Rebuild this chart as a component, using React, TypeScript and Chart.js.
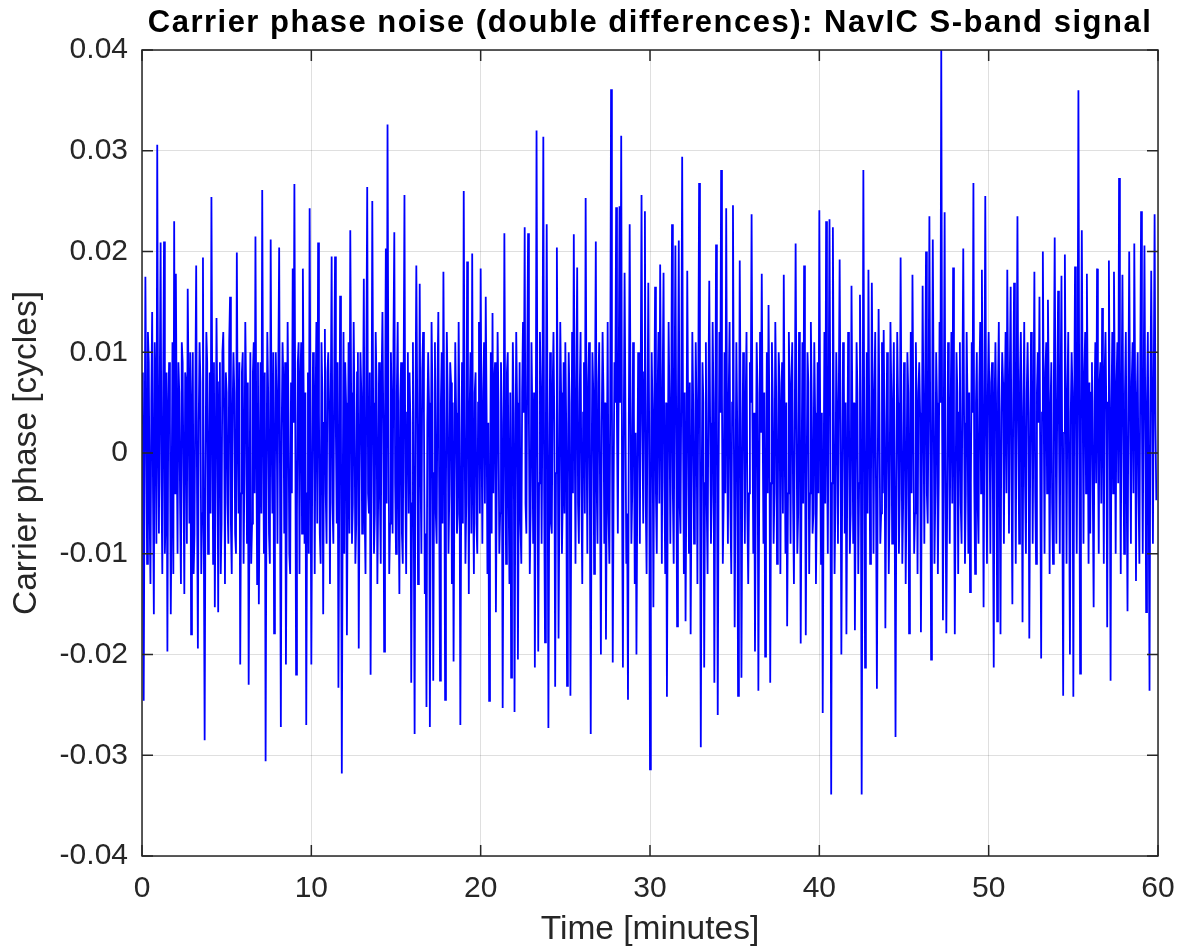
import React, { useEffect, useRef } from "react";
import { Chart, registerables } from "chart.js";

Chart.register(...registerables);

const TITLE = "Carrier phase noise (double differences): NavIC S-band signal";
const X_LABEL = "Time [minutes]";
const Y_LABEL = "Carrier phase [cycles]";
const SAMPLE_STEP_MIN = 0.05;
const X_TICKS = [0, 10, 20, 30, 40, 50, 60];
const Y_TICKS = [-0.04, -0.03, -0.02, -0.01, 0, 0.01, 0.02, 0.03, 0.04];
const Y_TICK_LABELS = ["-0.04", "-0.03", "-0.02", "-0.01", "0", "0.01", "0.02", "0.03", "0.04"];

// Carrier phase double-difference noise [cycles]; one row per minute (0.05 min samples)
const phaseCycles = [
  0.003, 0.008, -0.0246, -0.002, 0.0175, 0.004, -0.011, 0.012, 0.009, -0.006, -0.013, 0.005, 0.014, -0.004, -0.016, 0.011, 0.006, -0.009, 0.0306, 0.002,
  -0.008, 0.007, 0.0209, -0.003, -0.012, 0.006, 0.021, -0.010, -0.006, 0.008, -0.0197, 0.004, 0.009, 0.003, -0.016, -0.005, 0.011, -0.012, 0.023, -0.004,
  0.0178, 0.002, -0.010, 0.009, 0.006, -0.005, -0.013, 0.011, 0.009, -0.003, -0.014, 0.008, 0.007, -0.009, 0.0163, 0.006, -0.007, 0.010, -0.018, 0.004,
  0.010, -0.012, -0.008, 0.006, 0.0186, -0.004, -0.0194, 0.003, 0.011, 0.007, -0.012, -0.006, 0.0194, -0.008, -0.0285, -0.003, 0.012, 0.009, -0.010, -0.004,
  0.008, -0.006, 0.0254, 0.005, -0.011, 0.009, -0.0153, -0.002, 0.0134, 0.004, -0.0158, 0.007, 0.009, -0.012, -0.007, 0.010, 0.012, 0.003, -0.013, 0.008,
  0.006, -0.005, -0.009, 0.011, 0.0155, -0.007, -0.012, 0.004, 0.010, 0.006, -0.008, -0.010, 0.0199, 0.003, -0.006, 0.009, -0.021, -0.004, 0.008, 0.010,
  -0.011, -0.002, 0.013, 0.006, -0.009, 0.007, -0.023, -0.005, 0.010, -0.011, -0.007, 0.008, 0.011, -0.004, 0.0215, 0.002, -0.013, 0.009, -0.015, -0.003,
  0.009, -0.006, 0.0261, 0.004, -0.010, 0.008, -0.0306, -0.004, 0.012, 0.006, -0.008, -0.011, 0.0212, 0.003, -0.006, 0.010, -0.0179, -0.002, 0.010, 0.005,
  -0.009, 0.008, 0.0204, -0.003, -0.0272, 0.002, 0.011, 0.007, -0.008, 0.009, -0.021, -0.006, 0.013, 0.004, -0.010, -0.012, 0.007, -0.004, 0.0183, 0.003,
  0.0267, 0.004, -0.022, -0.006, 0.009, 0.011, -0.012, 0.007, 0.011, -0.008, 0.0183, 0.005, -0.009, 0.006, -0.027, -0.004, 0.008, -0.010, 0.0243, 0.002,
  -0.021, -0.003, 0.010, 0.008, -0.012, 0.005, 0.013, -0.007, 0.0209, 0.004, -0.008, -0.011, 0.011, 0.006, -0.016, 0.003, 0.0123, -0.004, -0.009, 0.008,
  0.010, 0.004, -0.013, 0.006, 0.0195, -0.005, -0.009, 0.007, 0.0195, 0.002, -0.007, 0.009, -0.0233, -0.004, 0.0156, 0.003, -0.0318, -0.006, 0.012, -0.010,
  0.009, 0.005, -0.0181, -0.003, 0.011, -0.008, 0.0221, 0.006, -0.009, -0.005, 0.013, 0.004, -0.011, -0.007, 0.008, 0.010, -0.0194, -0.002, 0.010, 0.006,
  -0.008, 0.003, 0.0173, -0.006, -0.012, 0.009, 0.0264, -0.004, -0.006, 0.008, -0.022, -0.003, 0.025, 0.005, -0.010, -0.006, 0.012, 0.007, -0.013, -0.004,
  0.009, -0.004, -0.011, 0.007, 0.014, 0.003, -0.0197, 0.002, 0.0203, -0.005, 0.0326, 0.006, -0.012, -0.007, 0.010, 0.004, -0.008, 0.011, 0.0219, -0.003,
  -0.010, 0.006, 0.013, -0.004, -0.014, 0.005, 0.009, -0.008, -0.011, 0.007, 0.0256, -0.003, -0.012, 0.004, 0.010, -0.006, 0.008, 0.003, -0.0228, -0.005,
  0.011, -0.007, -0.0279, 0.004, 0.0186, 0.006, -0.013, -0.004, 0.0168, -0.002, -0.010, 0.008, 0.012, 0.004, -0.014, -0.008, -0.0252, 0.003, 0.010, 0.005,
  -0.0272, -0.005, 0.013, 0.006, -0.0226, -0.002, 0.011, -0.006, -0.009, 0.007, 0.014, -0.004, -0.0226, 0.005, 0.010, -0.007, 0.018, 0.003, -0.0245, -0.004,
  0.012, 0.006, -0.010, -0.004, 0.009, 0.007, -0.013, 0.005, -0.0207, -0.003, 0.011, 0.004, -0.008, -0.006, 0.013, 0.002, -0.027, -0.005, 0.009, -0.007,
  0.026, 0.003, -0.011, -0.005, 0.019, 0.006, -0.014, 0.004, 0.010, -0.008, 0.0198, -0.003, -0.012, 0.006, 0.008, -0.007, -0.010, 0.005, 0.013, -0.006,
  0.0183, 0.002, -0.009, 0.006, 0.011, -0.005, 0.0155, 0.004, -0.012, 0.003, -0.0246, -0.006, 0.010, -0.008, 0.0139, -0.004, 0.007, 0.009, -0.0158, -0.003,
  0.012, 0.005, -0.010, -0.006, 0.009, 0.003, -0.0253, -0.004, 0.0218, 0.002, -0.011, 0.008, 0.010, -0.004, -0.013, 0.006, -0.0223, -0.005, 0.011, 0.004,
  -0.0257, -0.003, 0.012, 0.005, -0.0205, -0.004, 0.009, -0.007, -0.011, 0.006, 0.013, 0.004, 0.0224, -0.005, -0.008, 0.009, 0.0218, 0.003, -0.012, -0.006,
  0.011, 0.004, -0.009, 0.006, -0.0213, -0.002, 0.032, 0.004, -0.0197, -0.003, 0.012, 0.006, -0.009, 0.005, 0.0314, -0.004, -0.0188, 0.002, 0.0227, 0.003,
  -0.0273, -0.004, 0.010, -0.007, -0.008, 0.006, 0.012, 0.003, -0.0232, -0.002, 0.0204, 0.004, -0.0184, -0.005, 0.013, 0.006, -0.010, -0.004, 0.009, -0.006,
  0.011, 0.003, -0.0231, -0.003, 0.010, 0.005, -0.0241, -0.006, 0.012, -0.004, 0.0217, 0.003, -0.011, 0.007, 0.0184, -0.005, -0.009, 0.006, 0.012, -0.004,
  -0.013, 0.004, 0.009, -0.006, 0.0253, 0.003, -0.010, 0.007, 0.011, -0.005, -0.0279, -0.002, 0.010, 0.006, -0.012, 0.005, 0.021, -0.003, -0.009, 0.007,
  0.011, -0.004, -0.020, 0.003, 0.012, 0.006, -0.009, 0.005, -0.0185, -0.003, 0.013, -0.006, -0.011, 0.004, 0.0361, 0.006, -0.0208, -0.004, 0.009, 0.005,
  0.0244, 0.003, -0.008, 0.007, 0.0245, 0.005, 0.0315, -0.004, -0.0213, 0.002, 0.0179, 0.004, -0.011, -0.006, -0.0245, 0.003, 0.0227, 0.005, -0.009, -0.004,
  0.011, 0.004, -0.013, 0.002, -0.020, -0.004, 0.010, 0.006, -0.009, 0.007, 0.0256, 0.003, -0.007, 0.008, 0.024, -0.005, -0.012, 0.004, 0.0169, 0.003,
  -0.0314, -0.005, 0.010, 0.004, -0.0153, 0.003, 0.0165, -0.004, -0.010, 0.006, 0.012, -0.005, 0.0187, 0.004, -0.011, 0.007, 0.0179, -0.003, -0.012, 0.005,
  -0.0242, -0.003, 0.013, 0.005, -0.009, 0.004, 0.0227, -0.004, -0.011, 0.006, 0.0206, 0.002, -0.0172, 0.004, 0.0211, -0.005, -0.008, 0.007, 0.0294, 0.003,
  -0.012, 0.006, -0.0167, -0.003, 0.0181, 0.004, -0.010, 0.007, -0.018, -0.004, 0.012, 0.005, -0.009, -0.006, 0.011, 0.004, -0.013, 0.006, 0.0268, 0.002,
  -0.0292, -0.004, 0.009, 0.005, -0.0213, -0.003, 0.011, -0.005, -0.012, 0.006, 0.0171, 0.003, -0.009, -0.004, 0.013, 0.005, -0.0228, -0.002, 0.0207, 0.004,
  -0.026, -0.003, 0.012, 0.004, 0.0281, 0.006, -0.011, -0.005, 0.010, -0.004, 0.0243, 0.003, -0.009, 0.006, 0.013, -0.006, -0.012, 0.005, 0.0246, 0.003,
  -0.0173, -0.004, 0.011, 0.003, -0.0241, -0.005, 0.0191, 0.004, -0.0223, -0.003, 0.010, 0.006, -0.009, 0.005, 0.012, -0.006, -0.013, -0.004, 0.009, 0.005,
  0.0237, 0.003, -0.010, 0.004, -0.0197, -0.003, 0.011, 0.006, -0.0236, -0.004, 0.012, 0.002, 0.0178, 0.004, -0.009, 0.006, -0.0202, -0.005, 0.010, -0.004,
  0.0147, 0.004, -0.0228, -0.003, 0.011, 0.005, -0.009, -0.004, 0.013, 0.006, -0.011, -0.005, 0.010, 0.007, -0.012, 0.004, 0.009, -0.006, 0.0177, 0.002,
  -0.010, 0.005, -0.0172, -0.004, 0.012, 0.006, -0.009, 0.007, 0.011, -0.005, -0.013, 0.003, 0.0208, 0.004, -0.010, -0.006, 0.012, 0.005, -0.0189, -0.003,
  0.011, -0.005, 0.0186, 0.004, -0.0181, -0.003, 0.010, 0.007, -0.012, -0.004, 0.013, 0.005, -0.008, -0.006, 0.011, 0.004, -0.013, -0.005, 0.009, -0.004,
  0.0241, 0.003, -0.011, 0.004, -0.0258, -0.004, 0.012, -0.005, 0.023, 0.002, -0.010, 0.006, 0.0232, 0.004, -0.0339, -0.003, 0.0224, 0.005, -0.012, -0.005,
  0.010, 0.004, -0.009, 0.006, 0.0192, 0.003, -0.020, -0.004, 0.011, 0.007, -0.008, 0.005, -0.018, -0.003, 0.012, 0.004, -0.010, -0.006, 0.0166, 0.004,
  -0.009, 0.005, -0.0176, -0.004, 0.011, 0.006, -0.012, -0.003, 0.0157, 0.003, -0.0339, -0.005, 0.0281, 0.004, -0.0213, -0.004, 0.010, -0.006, 0.0182, 0.003,
  -0.011, -0.004, 0.0169, 0.005, -0.010, 0.006, 0.012, -0.005, -0.0234, -0.002, 0.0143, 0.004, -0.009, -0.006, 0.011, -0.004, 0.0122, 0.003, -0.0174, -0.003,
  0.010, 0.004, -0.012, -0.005, 0.013, 0.006, -0.009, 0.004, 0.011, -0.006, -0.0282, -0.003, 0.012, 0.005, -0.010, -0.004, 0.0194, 0.003, -0.011, -0.005,
  0.009, 0.005, -0.013, -0.004, 0.010, 0.006, -0.0179, -0.003, 0.012, -0.004, 0.0177, 0.005, -0.010, -0.006, 0.011, 0.004, -0.012, 0.006, 0.009, 0.004,
  -0.0178, -0.003, 0.0166, 0.004, -0.009, 0.006, 0.020, -0.004, -0.007, 0.005, 0.0235, 0.003, -0.0205, -0.002, 0.0212, 0.006, -0.011, -0.004, 0.010, 0.005,
  -0.012, -0.003, 0.013, 0.005, 0.0402, 0.004, -0.0166, 0.003, 0.0239, -0.004, -0.0179, -0.005, 0.011, 0.006, -0.009, 0.004, 0.012, -0.005, 0.0184, 0.003,
  -0.018, -0.004, 0.010, 0.006, -0.012, 0.004, 0.011, -0.005, -0.009, 0.007, 0.0203, 0.003, -0.011, -0.004, 0.012, 0.005, -0.010, 0.006, -0.0138, -0.003,
  0.011, 0.004, 0.0268, -0.003, -0.012, 0.005, 0.010, -0.005, -0.009, 0.007, 0.013, -0.004, 0.0182, 0.003, -0.0153, 0.004, 0.0255, 0.002, -0.011, 0.006,
  0.012, 0.004, -0.010, 0.007, 0.009, -0.004, -0.0213, 0.005, 0.011, 0.003, -0.0167, 0.006, 0.013, -0.003, -0.018, 0.004, 0.010, 0.007, -0.009, 0.005,
  0.012, -0.004, 0.0182, 0.006, -0.008, 0.008, 0.0165, -0.003, -0.015, 0.005, 0.0169, 0.004, -0.011, 0.006, 0.0235, 0.003, -0.009, 0.007, 0.012, 0.002,
  -0.0168, 0.004, 0.013, -0.003, -0.010, 0.006, 0.011, 0.004, -0.0184, -0.002, 0.012, 0.007, -0.009, 0.005, 0.018, -0.004, -0.011, 0.006, 0.010, 0.003,
  0.0155, -0.003, -0.0204, 0.004, 0.020, 0.005, -0.010, 0.008, 0.011, -0.004, 0.0152, 0.006, -0.012, 0.004, 0.009, -0.005, -0.011, 0.007, 0.0214, 0.003,
  -0.009, 0.005, 0.0161, 0.003, -0.010, 0.007, 0.0176, -0.004, -0.0241, 0.002, 0.0197, 0.005, -0.011, 0.006, 0.012, -0.003, -0.020, 0.004, 0.010, 0.006,
  -0.0242, 0.003, 0.0185, 0.005, -0.010, 0.006, 0.036, 0.004, -0.0219, 0.003, 0.0221, 0.006, -0.009, 0.008, 0.012, -0.004, 0.0178, 0.005, -0.011, 0.007,
  -0.008, 0.006, 0.009, -0.004, -0.0153, 0.005, 0.011, -0.003, 0.0183, 0.004, -0.010, 0.007, 0.009, -0.005, 0.0144, 0.003, -0.011, 0.008, 0.012, 0.004,
  -0.0173, 0.005, 0.0191, 0.003, -0.0226, 0.004, 0.012, -0.004, 0.018, 0.006, -0.010, 0.007, 0.011, -0.003, 0.0273, 0.004, -0.012, 0.006, 0.0177, 0.002,
  -0.010, 0.006, 0.012, -0.003, -0.0157, 0.005, 0.020, 0.004, -0.009, 0.007, 0.011, -0.004, 0.0208, 0.006, -0.0127, 0.005, 0.010, -0.004, -0.011, 0.007,
  0.024, 0.004, -0.010, 0.006, 0.0206, 0.003, -0.0158, 0.005, 0.012, -0.004, -0.0236, 0.005, 0.0181, 0.006, -0.009, 0.007, 0.0237, 0.003, -0.0047,
];

const FONT = "'Liberation Sans', Arial, Helvetica, sans-serif";
const AXIS_COLOR = "#262626";
const GRID_COLOR = "rgba(38,38,38,0.15)";

const boxPlugin = {
  id: "matlabBox",
  afterDatasetsDraw(chart: any) {
    const { ctx, chartArea: a, scales } = chart;
    ctx.save();
    ctx.strokeStyle = AXIS_COLOR;
    ctx.lineWidth = 1.5;
    ctx.strokeRect(a.left, a.top, a.right - a.left, a.bottom - a.top);
    const len = 11;
    ctx.beginPath();
    for (const t of scales.x.ticks) {
      const px = scales.x.getPixelForValue(t.value);
      ctx.moveTo(px, a.bottom);
      ctx.lineTo(px, a.bottom - len);
      ctx.moveTo(px, a.top);
      ctx.lineTo(px, a.top + len);
    }
    for (const t of scales.y.ticks) {
      const py = scales.y.getPixelForValue(t.value);
      ctx.moveTo(a.left, py);
      ctx.lineTo(a.left + len, py);
      ctx.moveTo(a.right, py);
      ctx.lineTo(a.right - len, py);
    }
    ctx.stroke();

    ctx.fillStyle = "#000000";
    ctx.font = `bold 31px ${FONT}`;
    (ctx as any).letterSpacing = "1.5px";
    ctx.textAlign = "center";
    ctx.textBaseline = "alphabetic";
    ctx.fillText(TITLE, (a.left + a.right) / 2, 24);
    (ctx as any).letterSpacing = "0px";
    ctx.restore();
  },
};

export default function App() {
  const canvasRef = useRef<HTMLCanvasElement | null>(null);

  useEffect(() => {
    if (!canvasRef.current) return;
    const points = phaseCycles.map((y, i) => ({ x: i * SAMPLE_STEP_MIN, y }));
    const chart = new Chart(canvasRef.current, {
      type: "line",
      data: {
        datasets: [
          {
            data: points,
            borderColor: "#0000ff",
            borderWidth: 1.8,
            pointRadius: 0,
            tension: 0,
            fill: false,
          },
        ],
      },
      plugins: [boxPlugin],
      options: {
        responsive: false,
        animation: false,
        events: [],
        layout: { padding: { top: 42, right: 19, left: 0, bottom: 0 } },
        plugins: {
          legend: { display: false },
          tooltip: { enabled: false },
          title: { display: false },
        },
        scales: {
          x: {
            type: "linear",
            min: 0,
            max: 60,
            afterFit: (s: any) => {
              s.height = 93;
              s.paddingLeft = 0;
              s.paddingRight = 0;
            },
            afterBuildTicks: (s: any) => {
              s.ticks = X_TICKS.map((v) => ({ value: v }));
            },
            ticks: {
              font: { family: FONT, size: 30 },
              color: AXIS_COLOR,
              padding: 15,
              maxRotation: 0,
              autoSkip: false,
              callback: (v: any) => String(v),
            },
            grid: { color: GRID_COLOR, lineWidth: 1, drawTicks: false },
            border: { display: false },
            title: {
              display: true,
              text: X_LABEL,
              color: AXIS_COLOR,
              font: { family: FONT, size: 33.5, lineHeight: 1 },
              padding: { top: 2, bottom: 2 },
            },
          },
          y: {
            type: "linear",
            min: -0.04,
            max: 0.04,
            afterFit: (s: any) => {
              s.width = 134;
            },
            afterBuildTicks: (s: any) => {
              s.ticks = Y_TICKS.map((v) => ({ value: v }));
            },
            ticks: {
              font: { family: FONT, size: 30 },
              color: AXIS_COLOR,
              padding: 14,
              autoSkip: false,
              callback: (_v: any, i: number) => Y_TICK_LABELS[i],
            },
            grid: { color: GRID_COLOR, lineWidth: 1, drawTicks: false },
            border: { display: false },
            title: {
              display: true,
              text: Y_LABEL,
              color: AXIS_COLOR,
              font: { family: FONT, size: 33.5, lineHeight: 1 },
              padding: { top: 2, bottom: 2 },
            },
          },
        },
      },
    });
    return () => chart.destroy();
  }, []);

  return (
    <canvas
      ref={canvasRef}
      width={1169}
      height={941}
      style={{ display: "block", position: "absolute", left: 8, top: 8 }}
    />
  );
}
